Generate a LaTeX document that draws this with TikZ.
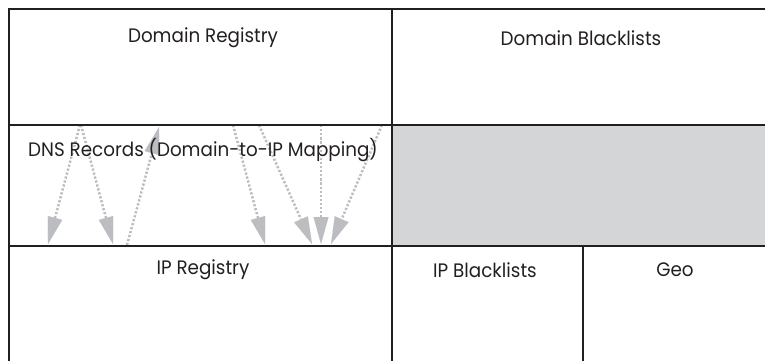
\documentclass[tikz,border=0pt]{standalone}
\usepackage{fontspec}
\setmainfont{Poppins}[FakeStretch=0.94]
\usetikzlibrary{arrows.meta}
\definecolor{linec}{HTML}{231F20}
\definecolor{arrowc}{HTML}{BCBDC0}
\definecolor{fillc}{HTML}{D4D5D7}
\tikzset{
  frame/.style={draw=linec, line width=2.8pt, line cap=rect},
  lbl/.style={font=\fontsize{19.5}{22}\selectfont, text=linec, inner sep=0pt},
  maparrow/.style={draw=arrowc, line width=2.5pt, dash pattern=on 2.2pt off 1.9pt,
    -{Triangle[length=27pt,width=15pt,line width=0.1pt,fill=arrowc]}}
}
\begin{document}
\begin{tikzpicture}[x=1pt,y=-1pt]
\useasboundingbox (0,0) rectangle (765,361);
% gray cell
\fill[fillc] (392,125) rectangle (765,246);
% arrow end points
\coordinate (a1s) at (80,125);  \coordinate (a1e) at (48,244);
\coordinate (a2s) at (81,125);  \coordinate (a2e) at (113,244);
\coordinate (a3s) at (127,245); \coordinate (a3e) at (159,127);
\coordinate (a4s) at (233,125); \coordinate (a4e) at (265,244);
\coordinate (a5s) at (259,125); \coordinate (a5e) at (312,244);
\coordinate (a6s) at (321,125); \coordinate (a6e) at (321,244);
\coordinate (a7s) at (382,125); \coordinate (a7e) at (331,244);
\foreach \i in {1,...,7} { \draw[maparrow] (a\i s) -- (a\i e); }
% frame lines
\coordinate (tl) at (9,9);
\coordinate (tr) at (765,9);
\coordinate (bl) at (9,361);
\draw[frame] (tr) -- (tl) -- (bl);
\draw[frame] (392,9) -- (392,361);
\draw[frame] (9,125) -- (765,125);
\draw[frame] (9,246) -- (765,246);
\draw[frame] (583,246) -- (583,361);
% labels
\node[lbl] (dreg) at (203,38) {Domain Registry};
\node[lbl] (dbl) at (581,38) {Domain Blacklists};
\node[lbl] (dns) at (203,150) {DNS Records (Domain-to-IP Mapping)};
\node[lbl] (ipreg) at (203,270) {IP Registry};
\node[lbl] (ipbl) at (485,270) {IP Blacklists};
\node[lbl] (geo) at (675,270) {Geo};
\end{tikzpicture}
\end{document}
